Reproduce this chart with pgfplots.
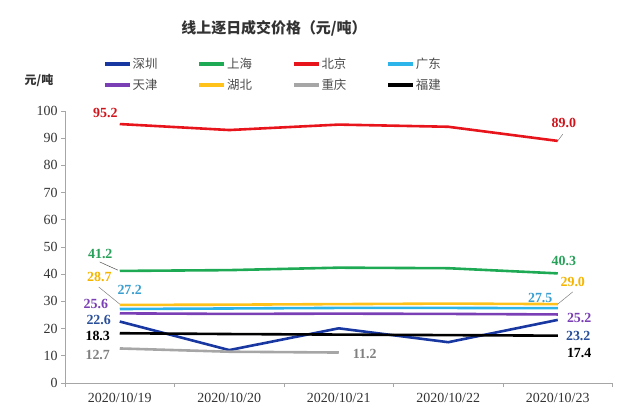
\documentclass[border=0pt]{standalone}
\usepackage{pgfplots}
\pgfplotsset{compat=1.18}
\usepackage{fontspec}
\setmainfont{Liberation Serif}
\newfontfamily\cjk{Noto Sans CJK SC}
\definecolor{szc}{RGB}{25,55,160}
\definecolor{shc}{RGB}{30,170,85}
\definecolor{bjc}{RGB}{232,20,27}
\definecolor{gdc}{RGB}{45,180,232}
\definecolor{tjc}{RGB}{122,63,181}
\definecolor{hbc}{RGB}{255,194,26}
\definecolor{cqc}{RGB}{166,166,166}
\definecolor{fjc}{RGB}{0,0,0}
\begin{document}
\begin{tikzpicture}
\useasboundingbox (0,0) rectangle (623bp,419bp);
\begin{axis}[
  at={(65bp,36bp)}, anchor=south west,
  scale only axis, width=547.5bp, height=272bp,
  xmin=-0.5, xmax=4.5, ymin=0, ymax=100,
  clip=false,
  axis lines*=left,
  axis line style={draw=black!35, line width=0.8pt},
  xtick={0,1,2,3,4},
  xticklabels={2020/10/19,2020/10/20,2020/10/21,2020/10/22,2020/10/23},
  major x tick style={draw=none},
  minor xtick={-0.5,0.5,1.5,2.5,3.5,4.5},
  minor x tick style={draw=black!35, line width=0.8pt},
  minor tick length=4bp,
  ytick={0,10,...,100},
  major y tick style={draw=black!35, line width=0.8pt},
  major tick length=4bp,
  tick align=outside,
  tick label style={font=\fontsize{14}{15}\selectfont, text=black!80},
  xticklabel style={yshift=-3bp},
  /pgf/number format/assume math mode=true,
  legend columns=4,
  legend style={at={(rel axis cs:0.0694,1.200)}, anchor=north west, draw=none, fill=none,
    inner sep=0pt, row sep=7bp, font=\cjk\fontsize{12.5}{13}\selectfont,
    nodes={inner sep=1bp, text=black!70},
    /tikz/every even column/.append style={column sep=39bp}},
  legend image code/.code={\draw[#1,line width=3.5bp] (0bp,0bp) -- (25bp,0bp);},
  every axis plot/.append style={line width=2.6bp, mark=none},
]
\addplot[szc] coordinates {(0,22.6) (1,12.1) (2,20.1) (3,15.0) (4,23.2)};
\addlegendentry{深圳}
\addplot[shc] coordinates {(0,41.2) (1,41.5) (2,42.4) (3,42.2) (4,40.3)};
\addlegendentry{上海}
\addplot[bjc] coordinates {(0,95.2) (1,93.0) (2,95.0) (3,94.2) (4,89.0)};
\addlegendentry{北京}
\addplot[gdc] coordinates {(0,27.2) (1,27.4) (2,27.6) (3,27.6) (4,27.5)};
\addlegendentry{广东}
\addplot[tjc] coordinates {(0,25.6) (1,25.4) (2,25.5) (3,25.4) (4,25.2)};
\addlegendentry{天津}
\addplot[hbc] coordinates {(0,28.7) (1,28.8) (2,29.0) (3,29.2) (4,29.0)};
\addlegendentry{湖北}
\addplot[cqc] coordinates {(0,12.7) (1,11.5) (2,11.2)};
\addlegendentry{重庆}
\addplot[fjc] coordinates {(0,18.3) (1,18.0) (2,17.8) (3,17.6) (4,17.4)};
\addlegendentry{福建}
% leader lines
\draw[black!70, line width=0.5pt] (axis cs:-0.183,44.5) -- (axis cs:-0.018,41.5);
\draw[black!50, line width=0.5pt] (axis cs:-0.192,35.3) -- (axis cs:0,29.0);
\draw[black!50, line width=0.5pt] (axis cs:4.137,33.5) -- (axis cs:4.0,29.0);
\draw[black!50, line width=0.5pt] (axis cs:4.046,91.5) -- (axis cs:4.0,89.0);
% data labels
\tikzset{lab/.style={font=\bfseries\fontsize{14}{15}\selectfont, inner sep=0pt}}
\node[lab, text={rgb,255:red,208;green,20;blue,27}] at (axis cs:-0.132,99.3) {95.2};
\node[lab, text={rgb,255:red,208;green,20;blue,27}] at (axis cs:4.055,95.6) {89.0};
\node[lab, text={rgb,255:red,40;green,160;blue,90}] at (axis cs:-0.178,47.4) {41.2};
\node[lab, text={rgb,255:red,245;green,180;blue,0}] at (axis cs:-0.187,39.0) {28.7};
\node[lab, text={rgb,255:red,58;green,159;blue,208}] at (axis cs:0.091,34.2) {27.2};
\node[lab, text={rgb,255:red,122;green,63;blue,181}] at (axis cs:-0.219,29.0) {25.6};
\node[lab, text={rgb,255:red,42;green,79;blue,154}] at (axis cs:-0.192,23.2) {22.6};
\node[lab, text=black] at (axis cs:-0.201,17.3) {18.3};
\node[lab, text={rgb,255:red,128;green,128;blue,128}] at (axis cs:-0.201,10.3) {12.7};
\node[lab, text={rgb,255:red,40;green,160;blue,90}] at (axis cs:4.055,44.9) {40.3};
\node[lab, text={rgb,255:red,245;green,180;blue,0}] at (axis cs:4.137,37.1) {29.0};
\node[lab, text={rgb,255:red,58;green,159;blue,208}] at (axis cs:3.840,31.3) {27.5};
\node[lab, text={rgb,255:red,122;green,63;blue,181}] at (axis cs:4.196,23.9) {25.2};
\node[lab, text={rgb,255:red,42;green,79;blue,154}] at (axis cs:4.187,17.3) {23.2};
\node[lab, text=black] at (axis cs:4.196,11.0) {17.4};
\node[lab, text={rgb,255:red,128;green,128;blue,128}] at (axis cs:2.237,10.7) {11.2};
\end{axis}
\node[font=\cjk\bfseries\fontsize{15}{16}\selectfont, text=black!80] at (274bp,391bp) {线上逐日成交价格（元/吨）};
\node[font=\cjk\bfseries\fontsize{12}{13}\selectfont, text=black!80] at (39bp,339bp) {元/吨};
\end{tikzpicture}
\end{document}
